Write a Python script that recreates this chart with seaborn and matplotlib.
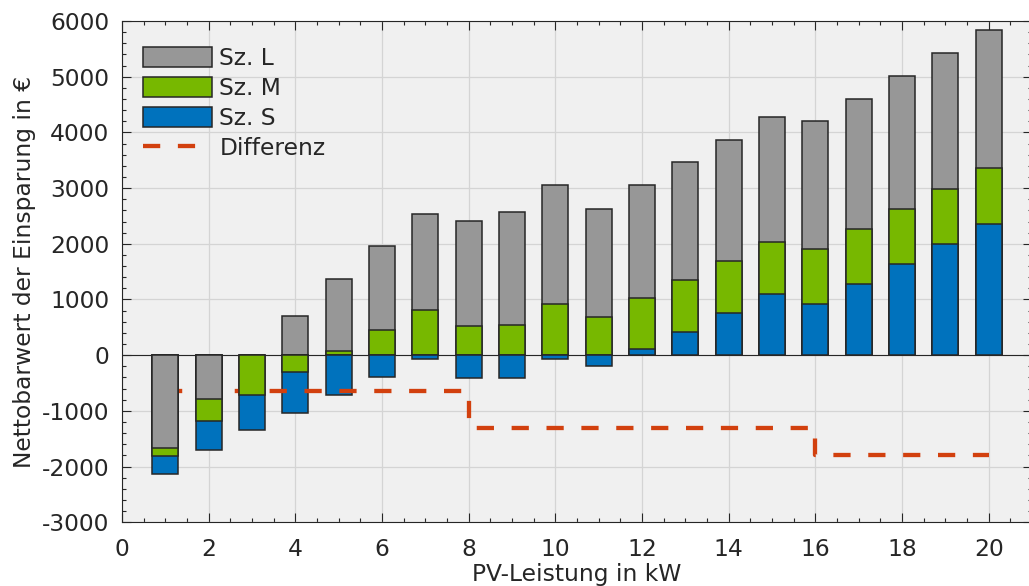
import matplotlib
matplotlib.use("Agg")
import matplotlib.pyplot as plt
import seaborn as sns
from matplotlib.patches import Patch
from matplotlib.lines import Line2D
from matplotlib.ticker import MultipleLocator

# PV size in kW and net present value of savings per scenario (EUR)
pv_kw = list(range(1, 21))
sz_l = [-1675, -778, 0, 712, 1365, 1962, 2531, 2406, 2562, 3058,
        2627, 3052, 3465, 3872, 4278, 4201, 4602, 5009, 5427, 5840]
sz_m = [-1808, -1185, -718, -300, 77, 449, 820, 527, 551, 921,
        688, 1018, 1341, 1688, 2041, 1903, 2257, 2621, 2986, 3363]
sz_s = [-2131, -1706, -1341, -1029, -706, -389, -66, -401, -401, -60,
        -192, 120, 420, 749, 1095, 925, 1280, 1639, 1998, 2364]

# step line "Differenz"
diff_x = [1, 8, 16, 20]
diff_y = [-646, -1305, -1783, -1783]

series_labels = ["Sz. L", "Sz. M", "Sz. S"]
series_colors = ["#979797", "#77b800", "#0072bd"]
diff_color = "#d2400e"
edge_color = "#262626"
fs = 16.8

sns.set_theme(style="ticks")
plt.rcParams.update({
    "font.family": ["DejaVu Sans"],
    "font.size": fs,
    "axes.unicode_minus": False,
    "axes.edgecolor": "#262626",
    "axes.linewidth": 0.8,
    "xtick.color": "#262626",
    "ytick.color": "#262626",
    "xtick.labelcolor": "#262626",
    "ytick.labelcolor": "#262626",
})

fig = plt.figure(figsize=(10.29, 5.86), dpi=100)
ax = fig.add_axes([0.1186, 0.1087, 0.8843, 0.8555])
ax.set_facecolor("#f0f0f0")

# overlaid bars: on the positive side the larger scenario sits behind,
# on the negative side the deeper scenario sits behind
pos_z = {"Sz. L": 1.10, "Sz. M": 1.20, "Sz. S": 1.30}
neg_z = {"Sz. L": 1.60, "Sz. M": 1.50, "Sz. S": 1.30}
for label, vals, col in zip(series_labels, [sz_l, sz_m, sz_s], series_colors):
    sns.barplot(x=pv_kw, y=vals, native_scale=True, width=0.6, color=col,
                saturation=1, edgecolor=edge_color, linewidth=1.1,
                errorbar=None, ax=ax)
    for bar, v in zip(ax.containers[-1], vals):
        bar.set_zorder(pos_z[label] if v >= 0 else neg_z[label])

ax.axhline(0, color="#262626", lw=0.8, zorder=1.05)

sns.lineplot(x=diff_x, y=diff_y, drawstyle="steps-post", color=diff_color,
             linewidth=3.1, ax=ax, zorder=1.4)
diff_line = ax.lines[-1]
diff_line.set_dashes([4.0, 4.1])
diff_line.set_dash_capstyle("butt")

ax.set_xlim(0, 21)
ax.set_ylim(-3000, 6000)
ax.xaxis.set_major_locator(MultipleLocator(2))
ax.xaxis.set_minor_locator(MultipleLocator(0.5))
ax.yaxis.set_major_locator(MultipleLocator(1000))
ax.yaxis.set_minor_locator(MultipleLocator(200))
ax.tick_params(which="both", direction="in", top=True, right=True,
               labelsize=fs, width=0.8)
ax.tick_params(which="major", length=6.5)
ax.tick_params(which="minor", length=3.2)
ax.tick_params(axis="x", which="major", pad=11)
ax.tick_params(axis="y", which="major", pad=9)
ax.grid(True, which="major", color="#d4d4d4", linewidth=0.9)
ax.set_axisbelow(True)
for s in ax.spines.values():
    s.set_visible(True)

ax.set_xlabel("PV-Leistung in kW", fontsize=fs, labelpad=2, color="#262626")
ax.set_ylabel("Nettobarwert der Einsparung in €", fontsize=fs,
              labelpad=4.5, color="#262626")

handles = [Patch(facecolor=c, edgecolor=edge_color, linewidth=1.1, label=l)
           for l, c in zip(series_labels, series_colors)]
handles.append(Line2D([], [], color=diff_color, linewidth=3.1,
                      dashes=[4.0, 4.1], dash_capstyle="butt",
                      label="Differenz"))
ax.legend(handles=handles, loc="upper left", bbox_to_anchor=(0.023, 0.948),
          frameon=False, fontsize=fs, handlelength=2.95, handleheight=0.92,
          handletextpad=0.32, labelspacing=0.3, borderpad=0,
          borderaxespad=0)

fig.savefig("out.png", dpi=100)
